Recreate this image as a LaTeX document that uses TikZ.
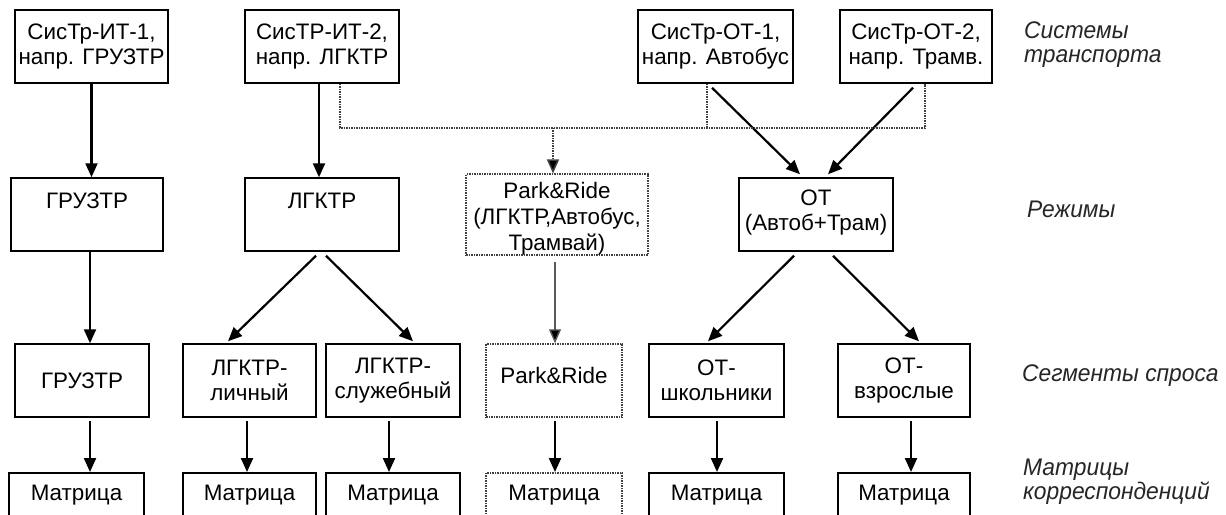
\documentclass[tikz,border=0pt]{standalone}
\usepackage{fontspec}
\setmainfont{Liberation Sans}
\newfontfamily\captionfont[FakeStretch=0.95]{Liberation Sans}
\usetikzlibrary{arrows.meta,calc}
\tikzset{
  box/.style={draw=black, line width=1.5pt, inner sep=0pt, align=center,
    minimum height=73pt, font=\fontsize{22.4}{25}\selectfont, text=black},
  dotbox/.style={box, draw=black!75, densely dotted},
  topline/.style={text height=30pt, text depth=43pt},
  mat/.style={box, anchor=north, text height=28pt, text depth=45pt},
  arr/.style={line width=2.2pt, -{Triangle[length=14pt,width=12pt]}},
  thinarr/.style={line width=1.4pt, draw=black!65, -{Triangle[length=14pt,width=12pt,fill=black]}},
  dotline/.style={line width=1.5pt, draw=black!75, densely dotted},
  dotarr/.style={dotline, -{Triangle[length=14pt,width=12pt,fill=black]}},
  lvl/.style={anchor=north west, align=left, inner sep=0pt, text=black!85,
    font=\captionfont\itshape\fontsize{24}{24}\selectfont},
}
\begin{document}
\begin{tikzpicture}[x=1pt,y=-1pt]
\useasboundingbox (0,0) rectangle (1226,514);
\clip (0,0) rectangle (1226,514);
\fill[white] (0,0) rectangle (1226,514);

% transport systems
\node[box, minimum width=153pt] (A1) at (91.5,46.5) {СисТр-ИТ-1,\\напр. ГРУЗТР};
\node[box, minimum width=154pt] (A2) at (322,46.5) {СисТР-ИТ-2,\\напр. ЛГКТР};
\node[box, minimum width=155pt] (A3) at (715.5,46.5) {СисТр-ОТ-1,\\напр. Автобус};
\node[box, minimum width=152pt] (A4) at (916,46.5) {СисТр-ОТ-2,\\напр. Трамв.};

% modes
\node[box, topline, minimum width=152pt] (B1) at (87,214.5) {ГРУЗТР};
\node[box, topline, minimum width=154pt] (B2) at (322,214.5) {ЛГКТР};
\node[dotbox, minimum width=182pt] (B3) at (557,214.5)
  {\rule{0pt}{24pt}Park\&Ride\\[1pt](ЛГКТР,Автобус,\\[1pt]Трамвай)};
\node[box, minimum width=154pt] (B4) at (816,214.5) {ОТ\\(Автоб+Трам)\rule[-9pt]{0pt}{1pt}};

% demand segments
\node[box, minimum width=134pt] (C1) at (82,380.5) {ГРУЗТР};
\node[box, minimum width=133pt] (C2) at (249.5,380.5) {ЛГКТР-\\личный};
\node[box, minimum width=134pt] (C3) at (393,380.5) {ЛГКТР-\\служебный};
\node[dotbox, minimum width=136pt] (C4) at (554,380.5) {Park\&Ride\rule[-10pt]{0pt}{1pt}};
\node[box, minimum width=135pt] (C5) at (716.5,380.5) {ОТ-\\школьники};
\node[box, minimum width=132pt] (C6) at (904,380.5) {ОТ-\\взрослые};

% OD matrices
\node[mat, minimum width=135pt] (D1) at (76.5,472) {Матрица};
\node[mat, minimum width=133pt] (D2) at (249.5,472) {Матрица};
\node[mat, minimum width=134pt] (D3) at (393,472) {Матрица};
\node[mat, draw=black!75, densely dotted, minimum width=136pt] (D4) at (554,472) {Матрица};
\node[mat, minimum width=135pt] (D5) at (716.5,472) {Матрица};
\node[mat, minimum width=132pt] (D6) at (904,472) {Матрица};

% level captions
\node[lvl] (L1) at (1024,21.5) {Системы\\транспорта};
\node[lvl] (L2) at (1027,201) {Режимы};
\node[lvl] (L3) at (1022,364.5) {Сегменты спроса};
\node[lvl] (L4) at (1023,458.5) {Матрицы\\корреспонденций};

% systems -> modes
\draw[arr] (A1.south) -- (A1.south |- B1.north);
\draw[arr] ($(A2.south)+(-3,0)$) -- ($(A2.south |- B2.north)+(-3,0)$);
\draw[arr] ($(A3.south)+(-3.5,4)$) -- ($(B4.north)+(-16,-3)$);
\draw[arr] ($(A4.south)+(-3,4)$) -- ($(B4.north)+(12,-3)$);

% combined park and ride feed
\coordinate (bend) at ($(A2.south)+(18,44)$);
\draw[dotline] ($(A2.south)+(18,0)$) -- (bend) -- ($(A4.south)+(9,44)$) -- ($(A4.south)+(9,0)$);
\draw[dotline] ($(A3.south)+(-8.5,0)$) -- ($(A3.south)+(-8.5,44)$);
\draw[dotarr] ($(B3.north |- bend)+(-4,0)$) -- ($(B3.north)+(-4,0)$);

% modes -> segments
\draw[arr] ($(B1.south)+(3,0)$) -- ($(B1.south |- C1.north)+(3,0)$);
\draw[arr] ($(B2.south)+(-6,4)$) -- ($(C2.north)+(-21.5,-2)$);
\draw[arr] ($(B2.south)+(4,4)$) -- ($(C3.north)+(20,-2)$);
\draw[thinarr] ($(B3.south)+(-2,6)$) -- ($(B3.south |- C4.north)+(-2,0)$);
\draw[arr] ($(B4.south)+(-22,4)$) -- ($(C5.north)+(-8.5,-2)$);
\draw[arr] ($(B4.south)+(17,4)$) -- ($(C6.north)+(15,-2)$);

% segments -> matrices
\draw[arr] ($(C1.south)+(8,3)$) -- ($(C1.south |- D1.north)+(8,0)$);
\draw[arr] ($(C2.south)+(-2.5,3)$) -- ($(C2.south |- D2.north)+(-2.5,0)$);
\draw[arr] ($(C3.south)+(-4,3)$) -- ($(C3.south |- D3.north)+(-4,0)$);
\draw[arr] ($(C4.south)+(1,3)$) -- ($(C4.south |- D4.north)+(1,0)$);
\draw[arr] ($(C5.south)+(0.5,3)$) -- ($(C5.south |- D5.north)+(0.5,0)$);
\draw[arr] ($(C6.south)+(7,3)$) -- ($(C6.south |- D6.north)+(7,0)$);
\end{tikzpicture}
\end{document}
